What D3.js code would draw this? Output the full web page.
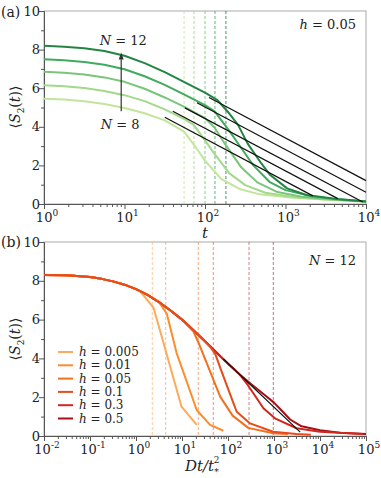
<!DOCTYPE html>
<html>
<head>
<meta charset="utf-8">
<script src="https://cdn.jsdelivr.net/npm/d3@7"></script>
<style>
body { margin: 0; background: #fff; }
</style>
</head>
<body>
<script>
// ---------- panel (a): points are [log10 t, <S2>] ----------
var sizesA = [8, 9, 10, 11, 12];
var colorsA = ["#c2e699", "#a3d98a", "#78c679", "#41ab5d", "#238443"];
var curvesA = [
    [[0,5.45],[0.25,5.41],[0.5,5.32],[0.75,5.18],[1,4.97],[1.25,4.70],[1.5,4.33],[1.74,3.75],[1.9,2.85],[2.0,2.25],[2.2,1.3],[2.43,0.78],[2.68,0.5],[3.06,0.34],[3.47,0.23],[4,0.13]],
    [[0,6.15],[0.25,6.10],[0.5,6.01],[0.75,5.86],[1,5.64],[1.25,5.33],[1.5,4.90],[1.75,4.38],[1.86,4.1],[2.0,3.3],[2.1,2.7],[2.3,1.6],[2.5,0.98],[2.75,0.58],[3.1,0.36],[3.5,0.23],[4,0.13]],
    [[0,6.85],[0.25,6.80],[0.5,6.71],[0.75,6.56],[1,6.33],[1.25,5.97],[1.5,5.52],[1.75,5.02],[2.0,4.45],[2.12,3.95],[2.25,3.1],[2.45,1.9],[2.65,1.12],[2.9,0.62],[3.2,0.38],[3.6,0.23],[4,0.13]],
    [[0,7.5],[0.25,7.45],[0.5,7.36],[0.75,7.21],[1,6.98],[1.25,6.62],[1.5,6.17],[1.75,5.65],[2.0,5.12],[2.12,4.8],[2.3,3.8],[2.45,2.9],[2.6,2.0],[2.8,1.15],[3.0,0.72],[3.3,0.42],[3.65,0.24],[4,0.13]],
    [[0,8.2],[0.25,8.15],[0.5,8.07],[0.75,7.93],[1,7.68],[1.25,7.3],[1.5,6.83],[1.75,6.3],[2.0,5.77],[2.15,5.4],[2.3,4.7],[2.41,4.1],[2.53,3.13],[2.7,2.1],[2.81,1.5],[3.02,0.81],[3.26,0.47],[3.68,0.24],[4,0.13]]
];
var tStarA = [1.74, 1.863, 2.0, 2.124, 2.26];
var linesA = [
    [[1.5,4.49],[3.34,0.42]],
    [[1.6,4.81],[3.65,0.28]],
    [[1.75,4.98],[3.96,0.1]],
    [[1.9,5.25],[4,0.61]],
    [[2.05,5.52],[4,1.21]]
];

// ---------- panel (b): points are [log10 Dt/t*^2, <S2>] ----------
var fieldsB = ["0.005", "0.01", "0.05", "0.1", "0.3", "0.5"];
var colorsB = ["#fdab5a", "#fd8d2c", "#f4701c", "#e84a1a", "#d0281c", "#a50f15"];
var envelopeB = [[-2,8.3],[-1.5,8.28],[-1,8.2],[-0.75,8.1],[-0.5,7.97],[-0.25,7.8],[0,7.57],[0.25,7.27],[0.5,6.9],[0.75,6.47],[1,6.0],[1.25,5.45],[1.5,4.88],[1.75,4.3],[2,3.72],[2.25,3.18],[2.5,2.68]];
var splitB = [0, 0.5, 1.0, 1.5, 2.25, 2.5];
var tailsB = [
    [[0.1,7.43],[0.38,6.62],[0.99,1.51],[1.32,0.57]],
    [[0.67,6.3],[0.88,4.3],[1.32,1.34],[1.61,0.57],[1.9,0.27]],
    [[1.25,5.38],[1.35,4.86],[1.83,2.03],[2.1,1.05],[2.44,0.42],[2.98,0.14],[3.3,0.1]],
    [[1.61,4.6],[1.72,4.25],[1.85,3.4],[2.12,1.68],[2.19,1.25],[2.48,0.65],[2.98,0.22],[3.49,0.1],[3.8,0.07]],
    [[2.43,2.63],[2.77,1.43],[3.02,0.91],[3.49,0.4],[4.0,0.22],[4.93,0.1]],
    [[2.75,2.2],[3.0,1.72],[3.15,1.35],[3.35,0.85],[3.6,0.5],[4.0,0.3],[4.43,0.17],[5,0.1]]
];
var drawOrderB = [5, 4, 0, 1, 2, 3];
var tStarB = [0.354, 0.646, 1.354, 1.68, 2.457, 2.985];
var lineB = [[1.9,3.97],[3.57,0.2]];

var yTicks = [0, 2, 4, 6, 8, 10];
var yMinor = [1, 3, 5, 7, 9];

var W = 381, H = 478;
var FONT = "DejaVu Serif";
var svg = d3.select("body").append("svg")
    .attr("width", W).attr("height", H)
    .style("font-family", FONT);

var left = 44, right = 366;

var xA = d3.scaleLog().domain([1, 1e4]).range([left, right]);
var yA = d3.scaleLinear().domain([0, 10]).range([204, 11]);
var xB = d3.scaleLog().domain([1e-2, 1e5]).range([left, right]);
var yB = d3.scaleLinear().domain([0, 10]).range([436, 242]);

function pow(e) { return Math.pow(10, e); }

function addText(x, y) {
    return svg.append("text").attr("x", x).attr("y", y)
        .style("font-family", FONT).attr("fill", "#222");
}

function drawAxes(x, y, expMin, expMax) {
    var top = y.range()[1], bottom = y.range()[0];
    svg.append("rect")
        .attr("x", left).attr("y", top)
        .attr("width", right - left).attr("height", bottom - top)
        .attr("fill", "none").attr("stroke", "#aaa").attr("stroke-width", 1);

    var minor = x.ticks().filter(function(v) { return Math.abs(Math.log10(v) - Math.round(Math.log10(v))) > 1e-6; });
    var major = d3.range(expMin, expMax + 1).map(pow);

    var gx = svg.append("g").attr("transform", "translate(0," + bottom + ")");
    gx.call(d3.axisBottom(x).tickValues(minor).tickSize(3).tickSizeOuter(0).tickFormat(""));
    gx.append("g").call(d3.axisBottom(x).tickValues(major).tickSize(5).tickSizeOuter(0).tickFormat(""));
    gx.selectAll("path, line").attr("stroke", "#555");

    var gy = svg.append("g").attr("transform", "translate(" + left + ",0)");
    gy.call(d3.axisLeft(y).tickValues(yMinor).tickSize(3).tickSizeOuter(0).tickFormat(""));
    gy.append("g").call(d3.axisLeft(y).tickValues(yTicks).tickSize(5).tickSizeOuter(0).tickFormat(""));
    gy.selectAll("path, line").attr("stroke", "#555");

    // tick labels as 10^n
    major.forEach(function(v, i) {
        var t = addText(x(v) + 3, bottom + 18)
            .attr("text-anchor", "middle").style("font-size", "13px");
        t.append("tspan").text("10");
        t.append("tspan").attr("dy", -6).style("font-size", "9px").text(expMin + i);
    });
    yTicks.forEach(function(v) {
        addText(left - 4, y(v)).attr("dy", "0.35em")
            .attr("text-anchor", "end").style("font-size", "13px")
            .text(v);
    });
}

function yLabel(cy) {
    var t = svg.append("text")
        .style("font-family", FONT).attr("fill", "#222")
        .attr("transform", "translate(20," + cy + ") rotate(-90)")
        .attr("text-anchor", "middle").style("font-size", "14px");
    t.append("tspan").text("\u27E8");
    t.append("tspan").style("font-style", "italic").text("S");
    t.append("tspan").attr("dy", 4).style("font-size", "9px").text("2");
    t.append("tspan").attr("dy", -4).text("(");
    t.append("tspan").style("font-style", "italic").text("t");
    t.append("tspan").text(")\u27E9");
}

// ---------- panel (a) ----------
drawAxes(xA, yA, 0, 4);

svg.selectAll(".dashA").data(tStarA).enter().append("line")
    .attr("x1", function(d) { return xA(pow(d)); })
    .attr("x2", function(d) { return xA(pow(d)); })
    .attr("y1", yA(10)).attr("y2", yA(0))
    .attr("stroke", function(d, i) { return colorsA[i]; })
    .attr("stroke-opacity", 0.85)
    .attr("stroke-width", 1)
    .attr("stroke-dasharray", "3,2");

var lineA = d3.line()
    .x(function(d) { return xA(pow(d[0])); })
    .y(function(d) { return yA(d[1]); });

svg.selectAll(".curveA").data(curvesA).enter().append("path")
    .attr("d", lineA)
    .attr("fill", "none")
    .attr("stroke", function(d, i) { return colorsA[i]; })
    .attr("stroke-width", 2)
    .attr("stroke-linejoin", "round");

svg.selectAll(".blackA").data(linesA).enter().append("path")
    .attr("d", lineA)
    .attr("fill", "none")
    .attr("stroke", "#111")
    .attr("stroke-width", 1.2);

// N arrow
var arrowT = 9.1;
svg.append("line")
    .attr("x1", xA(arrowT)).attr("x2", xA(arrowT))
    .attr("y1", yA(4.8)).attr("y2", yA(7.5))
    .attr("stroke", "#333").attr("stroke-width", 1.2);
svg.append("path")
    .attr("d", "M" + xA(arrowT) + "," + (yA(7.85)) + " l-2.5,7 l5,0 z")
    .attr("fill", "#333");

function nText(x, y, val, anchor, size) {
    var t = addText(x, y).attr("text-anchor", anchor).style("font-size", (size || 13) + "px");
    t.append("tspan").style("font-style", "italic").text(val[0]);
    t.append("tspan").text(" = " + val[1]);
    return t;
}
nText(xA(arrowT) + 2, yA(8.25), ["N", sizesA[4]], "middle");
nText(xA(arrowT) - 1, yA(3.9), ["N", sizesA[0]], "middle");
nText(356, 29, ["h", "0.05"], "end");

yLabel(107);
addText(205, 238).attr("text-anchor", "middle")
    .style("font-size", "15px").style("font-style", "italic").text("t");
addText(1, 17).style("font-size", "14px").text("(a)");

// ---------- panel (b) ----------
drawAxes(xB, yB, -2, 5);

svg.selectAll(".dashB").data(tStarB).enter().append("line")
    .attr("x1", function(d) { return xB(pow(d)); })
    .attr("x2", function(d) { return xB(pow(d)); })
    .attr("y1", yB(10)).attr("y2", yB(0))
    .attr("stroke", function(d, i) { return colorsB[i]; })
    .attr("stroke-opacity", 0.6)
    .attr("stroke-width", 1)
    .attr("stroke-dasharray", "3,2");

var lineBgen = d3.line()
    .x(function(d) { return xB(pow(d[0])); })
    .y(function(d) { return yB(d[1]); });

var curvesB = tailsB.map(function(tail, i) {
    return envelopeB.filter(function(p) { return p[0] <= splitB[i]; }).concat(tail);
});

svg.selectAll(".curveB").data(drawOrderB).enter().append("path")
    .attr("d", function(i) { return lineBgen(curvesB[i]); })
    .attr("fill", "none")
    .attr("stroke", function(i) { return colorsB[i]; })
    .attr("stroke-width", 2)
    .attr("stroke-linejoin", "round");

svg.append("path").datum(lineB)
    .attr("d", lineBgen)
    .attr("fill", "none")
    .attr("stroke", "#111")
    .attr("stroke-width", 1.2);

// legend
fieldsB.forEach(function(h, i) {
    var ly = 352 + i * 13.3;
    svg.append("line").attr("x1", 58).attr("x2", 73).attr("y1", ly).attr("y2", ly)
        .attr("stroke", colorsB[i]).attr("stroke-width", 2);
    nText(79, ly + 4, ["h", h], "start", 12);
});

nText(356, 265, ["N", "12"], "end");
yLabel(339);
addText(1, 247).style("font-size", "14px").text("(b)");
var xl = addText(185, 471).style("font-size", "15px");
xl.append("tspan").style("font-style", "italic").text("Dt/t");
xl.append("tspan").attr("dy", 4).style("font-size", "9px").text("*");
xl.append("tspan").attr("dx", -5).attr("dy", -12).style("font-size", "9px").text("2");
</script>
</body>
</html>
